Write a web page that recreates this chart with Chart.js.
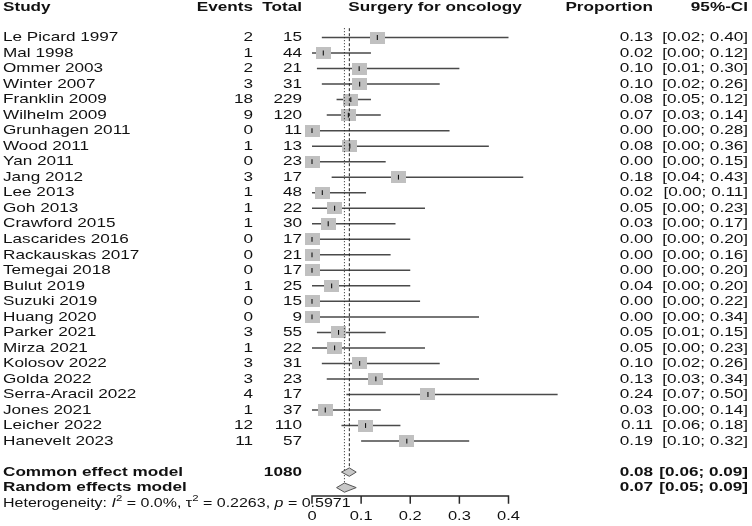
<!DOCTYPE html>
<html>
<head>
<meta charset="utf-8">
<script src="https://cdn.jsdelivr.net/npm/chart.js@4.4.0/dist/chart.umd.min.js"></script>
<style>
  html, body { margin: 0; padding: 0; background: #fff; }
  canvas { display: block; }
</style>
</head>
<body>
<canvas id="forest" width="752" height="526"></canvas>
<script>
// values
const studies = ['Le Picard 1997', 'Mal 1998', 'Ommer 2003', 'Winter 2007', 'Franklin 2009', 'Wilhelm 2009',
  'Grunhagen 2011', 'Wood 2011', 'Yan 2011', 'Jang 2012', 'Lee 2013', 'Goh 2013', 'Crawford 2015',
  'Lascarides 2016', 'Rackauskas 2017', 'Temegai 2018', 'Bulut 2019', 'Suzuki 2019', 'Huang 2020',
  'Parker 2021', 'Mirza 2021', 'Kolosov 2022', 'Golda 2022', 'Serra-Aracil 2022', 'Jones 2021',
  'Leicher 2022', 'Hanevelt 2023'];
const events = [2, 1, 2, 3, 18, 9, 0, 1, 0, 3, 1, 1, 1, 0, 0, 0, 1, 0, 0, 3, 1, 3, 3, 4, 1, 12, 11];
const totals = [15, 44, 21, 31, 229, 120, 11, 13, 23, 17, 48, 22, 30, 17, 21, 17, 25, 15, 9, 55, 22, 31, 23, 17, 37, 110, 57];
const props = [0.133, 0.023, 0.096, 0.097, 0.079, 0.074, 0, 0.077, 0, 0.176, 0.021, 0.046, 0.033,
  0, 0, 0, 0.040, 0, 0, 0.054, 0.046, 0.097, 0.130, 0.236, 0.027, 0.109, 0.193];
const ciLow = [0.02, 0.00, 0.01, 0.02, 0.05, 0.03, 0.00, 0.00, 0.00, 0.04, 0.00, 0.00, 0.00,
  0.00, 0.00, 0.00, 0.00, 0.00, 0.00, 0.01, 0.00, 0.02, 0.03, 0.07, 0.00, 0.06, 0.10];
const ciHigh = [0.40, 0.12, 0.30, 0.26, 0.12, 0.14, 0.28, 0.36, 0.15, 0.43, 0.11, 0.23, 0.17,
  0.20, 0.16, 0.20, 0.20, 0.22, 0.34, 0.15, 0.23, 0.26, 0.34, 0.50, 0.14, 0.18, 0.32];

// pooled estimates
const summaryNames = ['Common effect model', 'Random effects model'];
const summaryEst = [0.076, 0.066];
const summaryLow = [0.06, 0.05];
const summaryHigh = [0.09, 0.09];
const totalN = 1080;
const xTicks = [0, 0.1, 0.2, 0.3, 0.4];

// row layout (in y units of the chart)
const commonRow = 28, randomRow = 29, hetRow = 30, headerRow = -1.95;

const FONT = '"Liberation Sans", Arial, Helvetica, sans-serif';
const SX = 1.27; // the picture is stretched a bit sideways

function put(ctx, s, x, y, align, weight, size, style) {
    ctx.save();
    ctx.font = (style || 'normal') + ' ' + weight + ' ' + size + 'px ' + FONT;
    ctx.textAlign = align;
    ctx.textBaseline = 'middle';
    ctx.fillStyle = '#111';
    ctx.translate(x, y);
    ctx.scale(SX, 1);
    ctx.fillText(s, 0, 0);
    const w = ctx.measureText(s).width * SX;
    ctx.restore();
    return w;
}

// grey box used as the study square
const box = document.createElement('canvas');
box.width = 15; box.height = 12;
(function () {
    const b = box.getContext('2d');
    b.fillStyle = '#c0c0c0';
    b.fillRect(0, 0, 15, 12);
})();

const whiskers = [];
studies.forEach((s, i) => {
    whiskers.push({ x: ciLow[i], y: i }, { x: ciHigh[i], y: i }, { x: null, y: null });
});
const estPoints = props.map((p, i) => ({ x: p, y: i }));

const bgPlugin = {
    id: 'bg',
    beforeDraw(chart) {
        const ctx = chart.ctx;
        ctx.save();
        ctx.fillStyle = '#fff';
        ctx.fillRect(0, 0, chart.width, chart.height);
        ctx.restore();
    }
};

// x axis line with downward ticks, placed from the x scale
const axisPlugin = {
    id: 'axisLine',
    afterDraw(chart) {
        const ctx = chart.ctx, xs = chart.scales.x;
        const y = chart.chartArea.bottom;
        ctx.save();
        ctx.strokeStyle = '#2a2a2a';
        ctx.lineWidth = 1.5;
        ctx.lineCap = 'square';
        ctx.beginPath();
        ctx.moveTo(xs.getPixelForValue(xTicks[0]), y);
        ctx.lineTo(xs.getPixelForValue(xTicks[xTicks.length - 1]), y);
        xs.ticks.forEach(t => {
            const px = xs.getPixelForValue(t.value);
            ctx.moveTo(px, y);
            ctx.lineTo(px, y + 7);
        });
        ctx.stroke();
        ctx.restore();
    }
};

const diamondPlugin = {
    id: 'diamonds',
    afterDatasetsDraw(chart) {
        const ctx = chart.ctx, xs = chart.scales.x, ys = chart.scales.y;
        [commonRow, randomRow].forEach((row, k) => {
            const yc = ys.getPixelForValue(row);
            const h = k === 0 ? 4.2 : 4.6;
            ctx.save();
            ctx.beginPath();
            ctx.moveTo(xs.getPixelForValue(summaryLow[k]), yc);
            ctx.lineTo(xs.getPixelForValue(summaryEst[k]), yc - h);
            ctx.lineTo(xs.getPixelForValue(summaryHigh[k]), yc);
            ctx.lineTo(xs.getPixelForValue(summaryEst[k]), yc + h);
            ctx.closePath();
            ctx.fillStyle = '#c8c8c8';
            ctx.fill();
            ctx.strokeStyle = '#555';
            ctx.lineWidth = 1;
            ctx.stroke();
            ctx.restore();
        });
    }
};

const textPlugin = {
    id: 'columns',
    afterDraw(chart) {
        const ctx = chart.ctx, xs = chart.scales.x, ys = chart.scales.y;
        const size = 13.5;
        const hy = ys.getPixelForValue(headerRow);
        put(ctx, 'Study', 3, hy, 'left', 'bold', size);
        put(ctx, 'Events', 253, hy, 'right', 'bold', size);
        put(ctx, 'Total', 302, hy, 'right', 'bold', size);
        put(ctx, 'Surgery for oncology', 435, hy, 'center', 'bold', size);
        put(ctx, 'Proportion', 653, hy, 'right', 'bold', size);
        put(ctx, '95%-CI', 748, hy, 'right', 'bold', size);

        studies.forEach((s, i) => {
            const y = ys.getPixelForValue(i);
            put(ctx, s, 3, y, 'left', 'normal', size);
            put(ctx, String(events[i]), 253, y, 'right', 'normal', size);
            put(ctx, String(totals[i]), 302, y, 'right', 'normal', size);
            put(ctx, props[i].toFixed(2), 653, y, 'right', 'normal', size);
            put(ctx, '[' + ciLow[i].toFixed(2) + '; ' + ciHigh[i].toFixed(2) + ']', 748, y, 'right', 'normal', size);
        });

        [commonRow, randomRow].forEach((row, k) => {
            const y = ys.getPixelForValue(row);
            put(ctx, summaryNames[k], 3, y, 'left', 'bold', size);
            if (k === 0) put(ctx, String(totalN), 302, y, 'right', 'bold', size);
            put(ctx, summaryEst[k].toFixed(2), 653, y, 'right', 'bold', size);
            put(ctx, '[' + summaryLow[k].toFixed(2) + '; ' + summaryHigh[k].toFixed(2) + ']', 748, y, 'right', 'bold', size);
        });

        // heterogeneity line with italics and superscripts
        const y = ys.getPixelForValue(hetRow);
        const parts = [
            { t: 'Heterogeneity: ' }, { t: 'I', it: true }, { t: '2', sup: true },
            { t: ' = 0.0%, ' }, { t: 'τ' }, { t: '2', sup: true },
            { t: ' = 0.2263, ' }, { t: 'p', it: true }, { t: ' = 0.5971' }
        ];
        let hx = 3;
        parts.forEach(p => {
            hx += put(ctx, p.t, hx, p.sup ? y - 4.5 : y, 'left', 'normal', p.sup ? 9 : 12.6, p.it ? 'italic' : 'normal');
        });

        // tick labels
        xs.ticks.forEach(t => {
            put(ctx, String(t.value), xs.getPixelForValue(t.value), 516.5, 'center', 'normal', 13);
        });
    }
};

new Chart(document.getElementById('forest'), {
    type: 'scatter',
    data: {
        datasets: [
            {
                // point estimate marks
                data: estPoints,
                pointStyle: 'line',
                rotation: 90,
                radius: 2.4,
                borderWidth: 1.1,
                borderColor: '#111',
                order: 0,
                clip: false
            },
            {
                // common effect reference line
                data: [{ x: summaryEst[0], y: -0.6 }, { x: summaryEst[0], y: commonRow - 0.27 }],
                showLine: true,
                borderColor: '#222',
                borderWidth: 1,
                borderDash: [3, 2],
                pointRadius: 0,
                order: 1,
                clip: false
            },
            {
                // random effects reference line
                data: [{ x: summaryEst[1], y: -0.6 }, { x: summaryEst[1], y: randomRow - 0.29 }],
                showLine: true,
                borderColor: '#222',
                borderWidth: 1,
                borderDash: [1, 2],
                pointRadius: 0,
                order: 1,
                clip: false
            },
            {
                // study squares
                data: estPoints,
                pointStyle: box,
                radius: 6,
                order: 2,
                clip: false
            },
            {
                // confidence intervals
                data: whiskers,
                showLine: true,
                spanGaps: false,
                borderColor: '#4a4a4a',
                borderWidth: 1.5,
                pointRadius: 0,
                order: 3,
                clip: false
            }
        ]
    },
    options: {
        responsive: false,
        animation: false,
        devicePixelRatio: 1,
        layout: { padding: { left: 312, right: 243.5, top: 20, bottom: 0 } },
        plugins: { legend: { display: false }, tooltip: { enabled: false } },
        events: [],
        scales: {
            x: {
                type: 'linear',
                position: 'bottom',
                min: 0,
                max: 0.4,
                afterBuildTicks: s => { s.ticks = xTicks.map(v => ({ value: v })); },
                afterFit: s => { s.height = 30; },
                ticks: { color: 'rgba(0,0,0,0)', font: { size: 13 } },
                grid: { display: false },
                border: { display: false }
            },
            y: {
                type: 'linear',
                display: false,
                reverse: true,
                min: -1.1276,
                max: 29.54
            }
        }
    },
    plugins: [bgPlugin, diamondPlugin, axisPlugin, textPlugin]
});
</script>
</body>
</html>
